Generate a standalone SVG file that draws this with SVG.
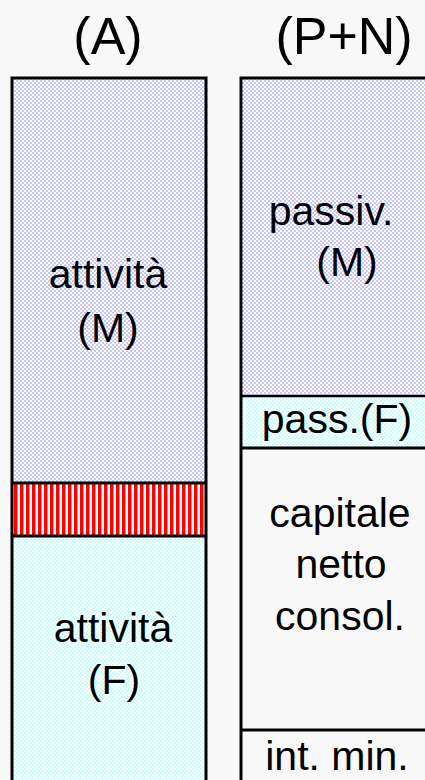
<svg xmlns="http://www.w3.org/2000/svg" width="425" height="780" viewBox="0 0 425 780">
<defs>
<pattern id="chkB" width="4" height="4" patternUnits="userSpaceOnUse"><rect width="4" height="4" fill="#ffffff"/><rect width="2" height="2" fill="#c8c8ff"/><rect x="2" y="2" width="2" height="2" fill="#c8c8ff"/></pattern>
<pattern id="chkC" width="4" height="4" patternUnits="userSpaceOnUse"><rect width="4" height="4" fill="#ffffff"/><rect width="2" height="2" fill="#c8ffff"/><rect x="2" y="2" width="2" height="2" fill="#c8ffff"/></pattern>
<pattern id="stripes" x="14" width="6" height="10" patternUnits="userSpaceOnUse"><rect width="6" height="10" fill="#ffffff"/><rect width="3.5" height="10" fill="#ff0000"/></pattern>
</defs>
<style>
.t{font-family:"Liberation Sans",Arial,sans-serif;font-size:41px;fill:#000;text-anchor:middle}
.h{font-family:"Liberation Sans",Arial,sans-serif;font-size:52px;fill:#000;text-anchor:middle}
.line{stroke:#000;stroke-width:3;fill:none}
</style>
<rect width="425" height="780" fill="#f8f8f8"/>
<g id="titleA"><text class="h" x="108" y="54">(A)</text></g>
<g id="titlePN"><text class="h" x="344" y="54">(P+N)</text></g>
<g id="attM">
<rect x="12" y="78" width="194" height="405" fill="url(#chkB)"/>
<text class="t" x="108" y="288">attività</text>
<text class="t" x="108" y="342">(M)</text>
</g>
<g id="red">
<rect x="12" y="483" width="194" height="53" fill="url(#stripes)"/>
</g>
<g id="attF">
<rect x="12" y="536" width="194" height="250" fill="url(#chkC)"/>
<text class="t" x="113" y="642">attività</text>
<text class="t" x="114" y="694">(F)</text>
</g>
<g id="passM">
<rect x="241" y="78" width="194" height="318" fill="url(#chkB)"/>
<text class="t" x="331" y="225">passiv.</text>
<text class="t" x="347" y="276">(M)</text>
</g>
<g id="passF">
<rect x="241" y="396" width="194" height="52" fill="url(#chkC)"/>
<text class="t" x="337" y="433">pass.(F)</text>
</g>
<g id="capitale">
<text class="t" x="340" y="527">capitale</text>
<text class="t" x="341" y="578">netto</text>
<text class="t" x="340" y="630">consol.</text>
</g>
<g id="intmin">
<text class="t" x="337" y="770">int. min.</text>
</g>
<g id="borders">
<rect class="line" x="12" y="78" width="194" height="720"/>
<rect class="line" x="241" y="78" width="200" height="720"/>
<line class="line" x1="12" y1="483" x2="206" y2="483"/>
<line class="line" x1="12" y1="536" x2="206" y2="536"/>
<line class="line" x1="241" y1="396" x2="441" y2="396" style="stroke-width:2.5"/>
<line class="line" x1="241" y1="448" x2="441" y2="448"/>
<line class="line" x1="241" y1="730" x2="441" y2="730"/>
</g>
</svg>
